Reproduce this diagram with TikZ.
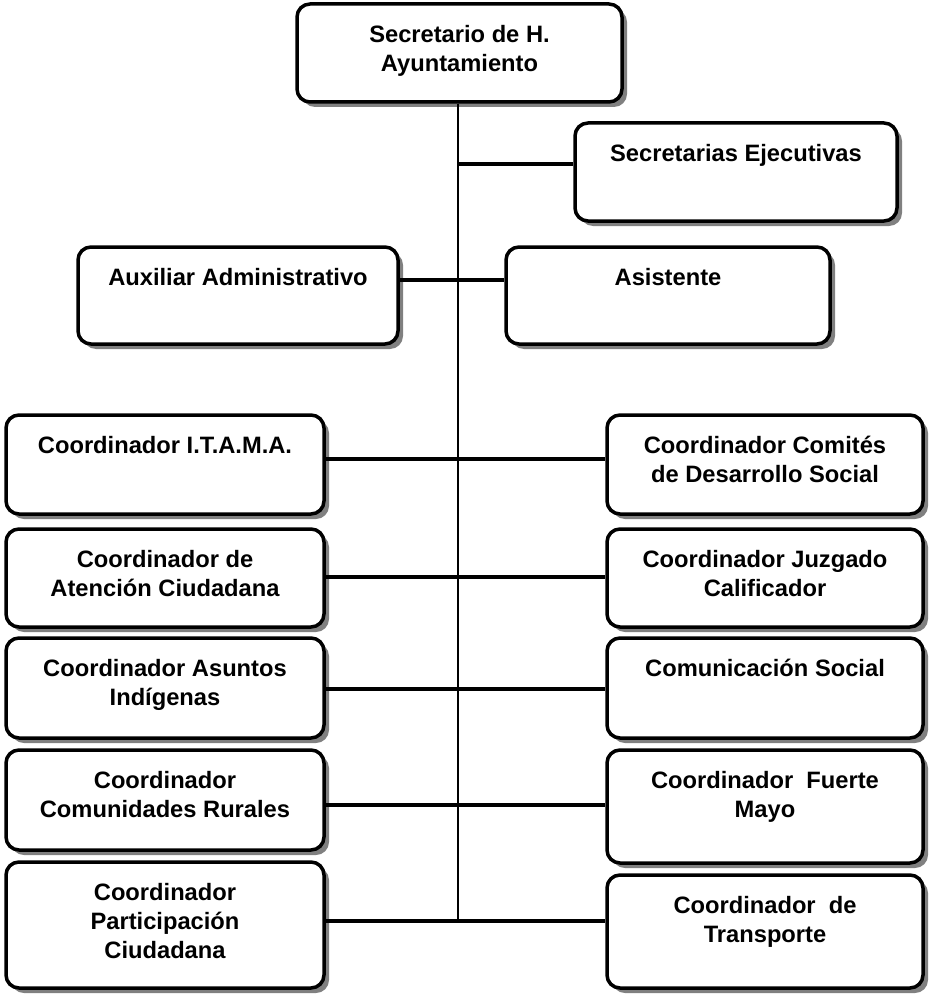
\documentclass[tikz,border=0pt]{standalone}
\usepackage{fontspec}
\setmainfont{Liberation Sans}
\usetikzlibrary{shadows}
\tikzset{
  orgbox/.style={draw, line width=3.5pt, rounded corners=13pt, fill=white, inner sep=0pt,
    general shadow={fill=black!50, shadow xshift=5pt, shadow yshift=-5pt}},
  spineline/.style={line width=1.5pt},
  conn/.style={line width=3.5pt}
}
\newcommand\orgbox[6]{%
  \node[orgbox] (#1) at ({(#2+#4)/2},{(#3+#5)/2})
    {\parbox[c][\dimexpr#5pt-#3pt\relax][t]{\dimexpr#4pt-#2pt\relax}{\centering\fontsize{23.7}{29}\selectfont\bfseries\rule{0pt}{38.5pt}#6}};}
\begin{document}
\begin{tikzpicture}[x=1pt,y=-1pt]
\useasboundingbox (0,0) rectangle (930,995);
\orgbox{sec}{297}{4}{622}{102}{Secretario de H.\\Ayuntamiento}
\orgbox{ejec}{575}{123}{897}{221}{Secretarias Ejecutivas}
\orgbox{aux}{78}{247}{398}{344}{Auxiliar Administrativo}
\orgbox{asist}{506}{247}{830}{344}{Asistente}
\orgbox{itama}{6}{415}{324}{514}{Coordinador I.T.A.M.A.}
\orgbox{comites}{607}{415}{923}{514}{Coordinador Comités\\de Desarrollo Social}
\orgbox{atencion}{6}{529}{324}{627}{Coordinador de\\Atención Ciudadana}
\orgbox{juzgado}{607}{529}{923}{627}{Coordinador Juzgado\\Calificador}
\orgbox{indigenas}{6}{638}{324}{738}{Coordinador Asuntos\\Indígenas}
\orgbox{comunicacion}{607}{638}{923}{738}{Comunicación Social}
\orgbox{rurales}{6}{750}{324}{850}{Coordinador\\Comunidades Rurales}
\orgbox{fuerte}{607}{750}{923}{863}{Coordinador~~Fuerte\\Mayo}
\orgbox{participacion}{6}{862}{324}{988}{Coordinador\\Participación\\Ciudadana}
\orgbox{transporte}{607}{875}{923}{988}{Coordinador~~de\\Transporte}
\coordinate (spine) at (458,921);
\coordinate (e1) at (458,164);
\coordinate (a1) at (458,280);
\coordinate (r1) at (458,459);
\coordinate (r2) at (458,577);
\coordinate (r3) at (458,689);
\coordinate (r4) at (458,805);
\draw[spineline] (sec.south -| spine) -- (spine);
\draw[conn] (e1) -- (ejec.west |- e1);
\draw[conn] (aux.east |- a1) -- (asist.west |- a1);
\draw[conn] (itama.east |- r1) -- (comites.west |- r1);
\draw[conn] (atencion.east |- r2) -- (juzgado.west |- r2);
\draw[conn] (indigenas.east |- r3) -- (comunicacion.west |- r3);
\draw[conn] (rurales.east |- r4) -- (fuerte.west |- r4);
\draw[conn] (participacion.east |- spine) -- (transporte.west |- spine);
\end{tikzpicture}
\end{document}
